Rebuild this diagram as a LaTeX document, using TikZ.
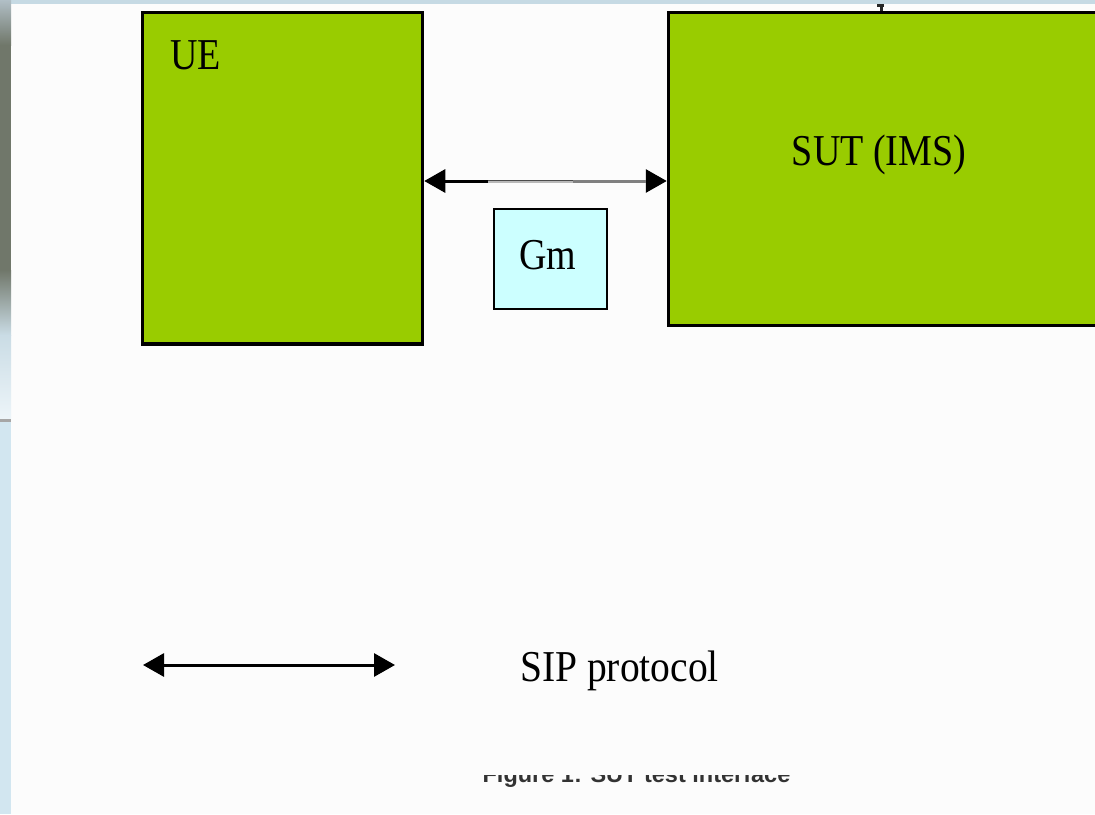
\documentclass[tikz,border=0pt]{standalone}
\usepackage{fontspec}
\setmainfont{Liberation Serif}
\newfontfamily\capfont{Liberation Sans}
\usetikzlibrary{arrows.meta}
\definecolor{boxgreen}{HTML}{99CC00}
\definecolor{gmfill}{HTML}{CCFFFF}
\definecolor{stripblue}{HTML}{D2E6F0}
\definecolor{topstrip}{HTML}{C6DAE4}
\definecolor{olivegray}{HTML}{70776A}
\newcommand{\tallserif}[2][1]{\scalebox{#1}[1.16]{\fontsize{38}{40}\selectfont #2}}
\tikzset{
  block/.style={draw=black, line width=3.5pt, fill=boxgreen, inner sep=0pt, anchor=center},
  ifbox/.style={draw=black, line width=2pt, fill=gmfill, inner sep=0pt, anchor=center},
  label text/.style={inner sep=0pt, text=black},
  sip/.style={line width=3pt, {Triangle[length=21pt,width=23pt]}-{Triangle[length=21pt,width=23pt]}},
}
\begin{document}
\begin{tikzpicture}[x=1pt,y=-1pt]
  \useasboundingbox (0,0) rectangle (1095,814);
  \clip (0,0) rectangle (1095,814);
  % page background and window edges
  \fill[white!99!black] (0,0) rectangle (1095,814);
  \fill[topstrip] (0,0) rectangle (1095,4);
  \shade[top color=topstrip!70!gray, bottom color=olivegray] (0,0) rectangle (11,45);
  \fill[olivegray] (0,45) rectangle (11,270);
  \shade[top color=olivegray, bottom color=stripblue!90!gray] (0,270) rectangle (11,335);
  \shade[top color=stripblue!90!gray, bottom color=stripblue!40!white] (0,335) rectangle (11,419);
  \fill[gray!70] (0,419) rectangle (11,422);
  \fill[stripblue] (0,422) rectangle (11,814);
  % small mark above the SUT box
  \fill[black!85] (877,4) rectangle (884,7);
  \fill[black!85] (879.5,7) rectangle (882.5,11);

  % blocks
  \node[block, minimum width=280pt, minimum height=331.5pt] (UE) at (282.5,178.25) {};
  \node[block, minimum width=441.5pt, minimum height=313pt] (SUT) at (889.25,169) {};
  \node[ifbox, minimum width=113pt, minimum height=100pt] (Gm) at (550,259) {};

  \node[label text, anchor=base west] (UElabel) at (170,69) {\tallserif{UE}};
  \node[label text, anchor=base] (SUTlabel) at (879,165) {\tallserif{SUT (IMS)}};
  \node[label text, anchor=base] (Gmlabel) at (548,269) {\tallserif{Gm}};

  % Gm reference point connector
  \coordinate (ay) at (0,181);
  \coordinate (g1) at (488,181);
  \coordinate (g2) at (573,181);
  \coordinate (g3) at (646,181);
  \draw[sip] (UE.east |- ay) -- (SUT.west |- ay);
  \draw[line width=1.5pt, gray!55] ([yshift=-0.75pt]g1) -- ([yshift=-0.75pt]g2);
  \draw[line width=1.5pt, black!70] ([yshift=0.75pt]g1) -- ([yshift=0.75pt]g2);
  \draw[line width=3pt, black!50] (g2) -- (g3);

  % legend
  \coordinate (la) at (143,665);
  \coordinate (lb) at (395,665);
  \draw[sip] (la) -- (lb);
  \node[label text, anchor=base west] (SIPlabel) at (520,681) {\tallserif[1.04]{SIP protocol}};

  % caption, cut off at the top
  \begin{scope}
    \clip (400,775) rectangle (900,800);
    \node[inner sep=0pt, anchor=base, text=black!80] (caption) at (636.5,782)
      {\capfont\bfseries\fontsize{23.5}{25}\selectfont Figure 1: SUT test interface};
  \end{scope}
\end{tikzpicture}
\end{document}
